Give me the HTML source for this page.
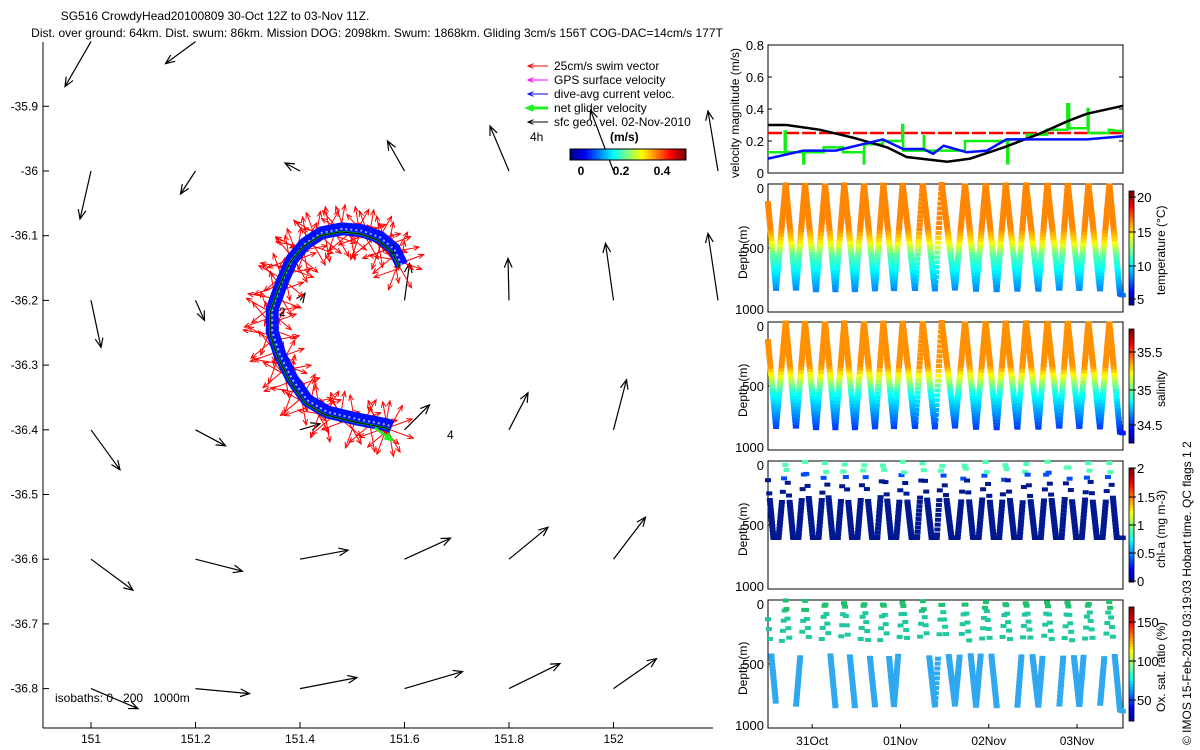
<!DOCTYPE html>
<html><head><meta charset="utf-8">
<style>
body{margin:0;background:#fff;}
svg{display:block;font-family:"Liberation Sans",sans-serif;}
text{font-size:12px;fill:#000;}
</style></head>
<body>
<svg id="fig" width="1200" height="750" viewBox="0 0 1200 750" xmlns="http://www.w3.org/2000/svg">
<text x="215" y="20" text-anchor="middle">SG516 CrowdyHead20100809 30-Oct 12Z to 03-Nov 11Z.</text>
<text x="377" y="37" text-anchor="middle">Dist. over ground: 64km. Dist. swum: 86km. Mission DOG: 2098km. Swum: 1868km. Gliding 3cm/s 156T COG-DAC=14cm/s 177T</text>
<g id="map"></g>
<g id="vel"></g>
<g id="prof"></g>
<text transform="translate(1191,745) rotate(-90)" style="font-size:12px">© IMOS 15-Feb-2019 03:19:03 Hobart time. QC flags 1  2</text>
</svg>
<script>
// ---------- data ----------
const lonTicks=[151,151.2,151.4,151.6,151.8,152];
const latTicks=[-35.9,-36,-36.1,-36.2,-36.3,-36.4,-36.5,-36.6,-36.7,-36.8];
const geoLon=[151,151.2, 151,151.2,151.4,151.6,151.8,152,152.2, 151,151.2,151.4,151.6,151.8,152,152.2, 151,151.2,151.4,151.6,151.8,152, 151,151.2,151.4,151.6,151.8,152, 151,151.2,151.4,151.6,151.8,152];
const geoLat=[-35.8,-35.8, -36,-36,-36,-36,-36,-36,-36, -36.2,-36.2,-36.2,-36.2,-36.2,-36.2,-36.2, -36.4,-36.4,-36.4,-36.4,-36.4,-36.4, -36.6,-36.6,-36.6,-36.6,-36.6,-36.6, -36.8,-36.8,-36.8,-36.8,-36.8,-36.8];
const geoU=[-0.13,-0.15, -0.055,-0.075,-0.075,-0.085,-0.095,-0.115,-0.05, 0.05,0.045,0.025,0.025,-0.005,-0.04,-0.05, 0.145,0.15,0.1,0.125,0.095,0.065, 0.21,0.235,0.24,0.23,0.195,0.16, 0.235,0.27,0.285,0.29,0.255,0.215];
const geoV=[-0.225,-0.11, -0.24,-0.115,0.04,0.15,0.225,0.305,0.3, -0.235,-0.1,0.035,0.185,0.21,0.285,0.335, -0.2,-0.08,0.03,0.125,0.185,0.25, -0.155,-0.06,0.045,0.105,0.16,0.21, -0.1,-0.025,0.055,0.085,0.125,0.15];
const trackLon=[151.591,151.576,151.549,151.515,151.477,151.438,151.406,151.381,151.362,151.343,151.343,151.358,151.381,151.410,151.448,151.505,151.563,151.572];
const trackLat=[-36.150,-36.125,-36.107,-36.097,-36.094,-36.100,-36.117,-36.141,-36.176,-36.218,-36.253,-36.289,-36.326,-36.359,-36.377,-36.388,-36.397,-36.400];
const swimAngles=[80,200,130,300,20,250,100,340,170,60,280,220,10,150,320,110];
// velocity panel (t in days from 30-Oct 12Z)
const velTicks=[0,0.2,0.4,0.6,0.8];
const blackT=[0,0.21,0.59,0.97,1.35,1.57,2.03,2.29,2.67,3.05,3.42,3.61,4.02];
const blackV=[0.30,0.30,0.27,0.22,0.16,0.10,0.07,0.09,0.16,0.24,0.33,0.37,0.42];
const blueT=[0,0.40,0.77,1.30,1.53,1.76,1.87,1.99,2.25,2.48,2.70,2.86,3.61,4.02];
const blueV=[0.09,0.14,0.14,0.21,0.15,0.15,0.12,0.17,0.13,0.14,0.21,0.21,0.21,0.23];
const greenT=[0,0.19,0.19,0.20,0.20,0.40,0.40,0.41,0.41,0.63,0.63,0.85,0.85,1.085,1.085,1.09,1.09,1.30,1.30,1.52,1.52,1.53,1.53,1.765,1.765,1.77,1.77,2.23,2.23,2.48,2.48,2.71,2.71,2.72,2.72,2.93,2.93,3.16,3.16,3.39,3.39,3.41,3.41,3.62,3.62,3.63,3.63,3.86,3.86,4.02];
const greenV=[0.13,0.13,0.26,0.26,0.13,0.13,0.06,0.06,0.13,0.13,0.16,0.16,0.13,0.13,0.06,0.06,0.18,0.18,0.20,0.20,0.30,0.30,0.14,0.14,0.23,0.23,0.14,0.14,0.20,0.20,0.20,0.20,0.06,0.06,0.21,0.21,0.24,0.24,0.27,0.27,0.43,0.43,0.28,0.28,0.40,0.40,0.25,0.25,0.27,0.26];
const swimSpeed=0.25;
// dive profile apexes
const diveT=[0,0.091,0.200,0.317,0.419,0.544,0.646,0.763,0.864,0.985,1.087,1.212,1.306,1.427,1.525,1.665,1.752,1.891,1.967,2.118,2.231,2.356,2.465,2.590,2.692,2.824,2.922,3.062,3.163,3.299,3.394,3.526,3.628,3.760,3.866,3.986,4.02];
const diveD=[150,820,0,830,0,840,0,830,0,840,0,830,0,830,0,830,0,830,0,820,0,830,0,830,0,830,0,830,0,830,0,830,0,830,0,860,870];
const oxDeepShown=[1,0,0,1,0,0,1,0,1,0,1,0,1,1,0,0,1,1,1,1,1,1,1,0,0,1,1,1,0,1,1,1,0,1,1,1];
const dayTicks=["31Oct","01Nov","02Nov","03Nov"];
const dayTickT=[0.5,1.5,2.5,3.5];
// ---------- helpers ----------
const NS="http://www.w3.org/2000/svg";
function mk(parent,tag,attrs,txt){const e=document.createElementNS(NS,tag);for(const k in attrs)e.setAttribute(k,attrs[k]);if(txt!==undefined)e.textContent=txt;parent.appendChild(e);return e;}
function jet(f){f=Math.max(0,Math.min(1,f));const r=Math.min(1,Math.max(0,1.5-Math.abs(4*f-3))),g=Math.min(1,Math.max(0,1.5-Math.abs(4*f-2))),b=Math.min(1,Math.max(0,1.5-Math.abs(4*f-1)));return `rgb(${Math.round(r*255)},${Math.round(g*255)},${Math.round(b*255)})`;}
// ---------- map ----------
const map=document.getElementById('map');
const lx=lon=>91+(lon-151)*522.5, ly=lat=>171-(lat+36)*647;
mk(map,'line',{x1:43,y1:42,x2:43,y2:728,stroke:'#000'});
mk(map,'line',{x1:43,y1:728,x2:713,y2:728,stroke:'#000'});
lonTicks.forEach(v=>{const x=lx(v);const t=mk(map,'text',{x:x,y:743,'text-anchor':'middle'},String(v));mk(map,'line',{x1:x,y1:728,x2:x,y2:722,stroke:'#000'});});
latTicks.forEach(v=>{const y=ly(v);const t=mk(map,'text',{x:38,y:y+4,'text-anchor':'end'},String(v));mk(map,'line',{x1:43,y1:y,x2:49,y2:y,stroke:'#000'});});
function arrow(g,x1,y1,x2,y2,col,w,hs){const a=Math.atan2(y2-y1,x2-x1);mk(g,'line',{x1,y1,x2,y2,stroke:col,'stroke-width':w});
 const p1=[x2-hs*Math.cos(a-0.4),y2-hs*Math.sin(a-0.4)],p2=[x2-hs*Math.cos(a+0.4),y2-hs*Math.sin(a+0.4)];
 mk(g,'polyline',{points:`${p1} ${x2},${y2} ${p2}`,fill:'none',stroke:col,'stroke-width':w});}
const geoG=mk(map,'g',{});
geoLon.forEach((lo,i)=>{const x=lx(lo),y=ly(geoLat[i]);arrow(geoG,x,y,x+geoU[i]*200,y-geoV[i]*200,'#000',1.2,10);});
// track
const tp=trackLon.map((lo,i)=>[lx(lo),ly(trackLat[i])]);
const sw=mk(map,'g',{});
let k=0;
for(let i=0;i<tp.length-1;i++){for(let s=0;s<4;s++){const f=s/4;const x=tp[i][0]+(tp[i+1][0]-tp[i][0])*f,y=tp[i][1]+(tp[i+1][1]-tp[i][1])*f;
 for(let j=0;j<3;j++){const ang=swimAngles[k%swimAngles.length]*Math.PI/180;k++;const L=swimSpeed*110;arrow(sw,x,y,x+L*Math.cos(ang),y-L*Math.sin(ang),'#f00',1,6);}}}
const pts=tp.map(p=>p.join(',')).join(' ');
const band=mk(map,'polyline',{points:tp.map(p=>(p[0]+2)+','+(p[1]-3)).join(' '),fill:'none',stroke:'#0010ff','stroke-width':13,'stroke-linejoin':'round'});

mk(map,'polyline',{points:tp.map(p=>(p[0]+2)+','+(p[1]-3)).join(' '),fill:'none',stroke:'#a0b0ff','stroke-width':2,'stroke-dasharray':'2 3'});
mk(map,'polyline',{points:pts,fill:'none',stroke:'#0c0','stroke-width':2});
mk(map,'polyline',{points:pts,fill:'none',stroke:'#000','stroke-width':1});
arrow(map,tp[tp.length-1][0]-15,tp[tp.length-1][1]-2,392,440,'#2e2',2.5,8);
mk(map,'text',{x:390,y:253},'1');mk(map,'text',{x:279,y:316},'2');mk(map,'text',{x:447,y:439},'4');
mk(map,'text',{x:55,y:702,style:'font-size:12px;white-space:pre'},'isobaths: 0   200   1000m');
// legend
const lg=mk(map,'g',{});
const legItems=[['25cm/s swim vector','#f00',1],['GPS surface velocity','#f0f',1],['dive-avg current veloc.','#00f',1],['net glider velocity','#2e2',3],['sfc geo. vel. 02-Nov-2010','#000',1]];
legItems.forEach((it,i)=>{const y=66+i*14;arrow(lg,548,y,528,y,it[1],it[2],6);const t=mk(lg,'text',{x:554,y:y+4},it[0]);});
mk(lg,'text',{x:530,y:141},'4h');
mk(lg,'text',{x:610,y:141,'font-weight':'bold'},'(m/s)');
for(let i=0;i<58;i++){mk(lg,'rect',{x:570+i*2,y:149,width:2.2,height:11,fill:jet(i/57)});}
mk(lg,'rect',{x:570,y:149,width:116,height:11,fill:'none',stroke:'#000'});
[['0',581],['0.2',621],['0.4',662]].forEach(a=>mk(lg,'text',{x:a[1],y:175,'text-anchor':'middle','font-weight':'bold'},a[0]));
// ---------- velocity panel ----------
const vel=document.getElementById('vel');
const X0=768,X1=1123,tx=t=>X0+t*88.3;
const vy=v=>173-v*160;
mk(vel,'rect',{x:X0,y:45,width:X1-X0,height:128,fill:'none',stroke:'#000'});
velTicks.forEach(v=>{const t=mk(vel,'text',{x:764,y:vy(v)+5,'text-anchor':'end',style:'font-size:13px'},String(v));
 mk(vel,'line',{x1:X0,y1:vy(v),x2:X0+4,y2:vy(v),stroke:'#000'});mk(vel,'line',{x1:X1,y1:vy(v),x2:X1-4,y2:vy(v),stroke:'#000'});});
mk(vel,'text',{transform:'translate(739,178) rotate(-90)',style:'font-size:12px'},'velocity magnitude (m/s)');
const rl=mk(vel,'line',{x1:X0,y1:vy(swimSpeed),x2:X1,y2:vy(swimSpeed),stroke:'#f00','stroke-width':2.5,'stroke-dasharray':'14 3'});
function line(g,T,V,col,w,name){const p=mk(g,'polyline',{points:T.map((t,i)=>tx(t)+','+vy(V[i])).join(' '),fill:'none',stroke:col,'stroke-width':w});}
line(vel,greenT,greenV,'#1e1',2.5,'net-glider-velocity-line');
line(vel,blackT,blackV,'#000',2.5,'geostrophic-velocity-line');
line(vel,blueT,blueV,'#0010ff',2.5,'dive-avg-current-line');
// ---------- profile panels ----------
const prof=document.getElementById('prof');
const panels=[{top:184,name:'temperature'},{top:322,name:'salinity'},{top:461,name:'chlorophyll'},{top:600,name:'oxygen'}];
function depthAt(t){for(let i=0;i<diveT.length-1;i++){if(t>=diveT[i]&&t<=diveT[i+1]){const f=(t-diveT[i])/(diveT[i+1]-diveT[i]);return [diveD[i]+(diveD[i+1]-diveD[i])*f,i];}}return [diveD[diveD.length-1],diveT.length-2];}
function tempOf(d){if(d<350)return 16.6;if(d<450)return 16.6-1.6*(d-350)/100;if(d<550)return 15-3*(d-450)/100;if(d<700)return 12-2*(d-550)/150;return 10-1.8*(d-700)/150;}
function salOf(d){if(d<350)return 35.45;if(d<450)return 35.45-0.25*(d-350)/100;if(d<550)return 35.2-0.25*(d-450)/100;return 34.95-0.35*(d-550)/300;}
panels.forEach((p,pi)=>{
 const g=mk(prof,'g',{});
 const dy=d=>p.top+d*0.128;
 mk(g,'rect',{x:X0,y:p.top,width:X1-X0,height:128,fill:'none',stroke:'#000'});
 [[0,'0'],[500,'500'],[1000,'1000']].forEach(a=>{mk(g,'text',{x:764,y:dy(a[0])+(a[0]==0?9:a[0]==1000?2:5),'text-anchor':'end',style:'font-size:13px'},a[1]);mk(g,'line',{x1:X0,y1:dy(a[0]),x2:X0+4,y2:dy(a[0]),stroke:'#000'});});
 mk(g,'text',{transform:`translate(747,${p.top+95}) rotate(-90)`,style:'font-size:12px'},'Depth (m)');
 for(let t=0;t<=4.02;t+=0.0035){let [d,seg]=depthAt(t);let col;
  if(pi==0){col=jet((tempOf(d)-4.1)/16.8);}
  else if(pi==1){col=jet((salOf(d)-34.35)/1.5);}
  else if(pi==2){if(d>600)d=600; if(d<300&&Math.round(t/0.0035)%4)continue; col=d<90?jet(0.45):d<150?jet(0.2):'#001890';}
  else {if(d<320){if(Math.round(t/0.0035)%3)continue;col=d<80?'#20c070':'#20c8a0';} else if(d<430)continue; else {if(!oxDeepShown[seg%oxDeepShown.length])continue;col='#30a8f0';}}
  mk(g,'rect',{x:tx(t)-3,y:dy(d)-2,width:6,height:4,fill:col});
 }
 // colorbar
 const cb=[[191,305],[329,443],[468,582],[607,721]][pi];
 const n=40;for(let i=0;i<n;i++){mk(g,'rect',{x:1129,y:cb[0]+(cb[1]-cb[0])*i/n,width:5,height:(cb[1]-cb[0])/n+0.5,fill:jet(1-i/n)});}
 mk(g,'rect',{x:1129,y:cb[0],width:5,height:cb[1]-cb[0],fill:'none',stroke:'#000','stroke-width':0.8});
 const labs=[[['20',197],['15',232],['10',266],['5',299]],[['35.5',352],['35',390],['34.5',425]],[['2',468],['1.5',497],['1',525],['0.5',553],['0',581]],[['150',622],['100',661],['50',700]]][pi];
 labs.forEach(l=>{mk(g,'text',{x:1137,y:l[1]+5,style:'font-size:13px'},l[0]);mk(g,'line',{x1:1129,y1:l[1],x2:1136,y2:l[1],stroke:'#000'});});
 const titles=[['temperature (°C)',295],['salinity',407],['chl-a (mg m-3)',568],['Ox. sat. ratio (%)',712]][pi];
 mk(g,'text',{transform:`translate(1165,${titles[1]}) rotate(-90)`,style:'font-size:12px'},titles[0]);
});
dayTicks.forEach((d,i)=>{const x=tx(dayTickT[i]);const t=mk(prof,'text',{x:x,y:745,'text-anchor':'middle',style:'font-size:12px'},d);mk(prof,'line',{x1:x,y1:728,x2:x,y2:724,stroke:'#000'});});
</script>
</body></html>
